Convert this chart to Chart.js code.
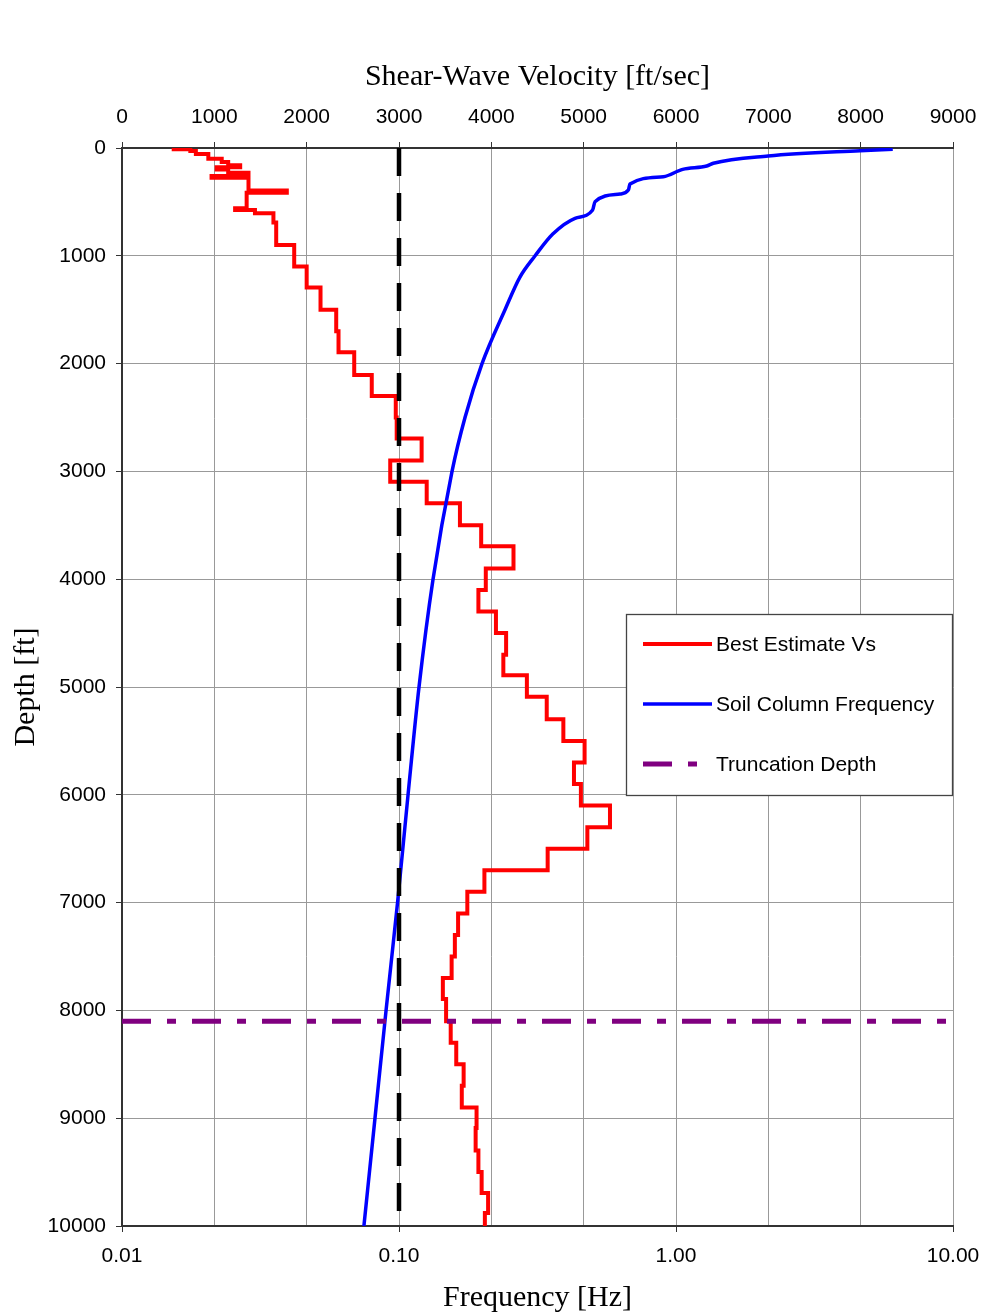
<!DOCTYPE html>
<html>
<head>
<meta charset="utf-8">
<title>Shear-Wave Velocity and Soil Column Frequency</title>
<script src="https://cdn.jsdelivr.net/npm/chart.js@4.4.1/dist/chart.umd.min.js"></script>
<style>
    html, body { margin: 0; padding: 0; background: #fff; }
    canvas { display: block; }
</style>
</head>
<body>
<canvas id="profileChart" width="985" height="1314"></canvas>
<script>
// Layer tops [ft] and best-estimate shear-wave velocity of each layer [ft/sec]
const layerTopFt = [
    0, 12, 28, 55, 100, 130, 160, 178, 200, 230,
    260, 275, 395, 415, 560, 575, 605, 690, 900, 1100,
    1295, 1500, 1700, 1895, 2105, 2300, 2500, 2695, 2900, 3095,
    3295, 3500, 3695, 3900, 4100, 4300, 4500, 4700, 4890, 5090,
    5300, 5500, 5700, 5900, 6100, 6300, 6500, 6700, 6900, 7100,
    7300, 7500, 7700, 7895, 8100, 8300, 8500, 8700, 8900, 9090,
    9300, 9500, 9695, 9880
];
const bestEstimateVs = [
    560, 740, 800, 935, 1080, 1150, 1280, 1025, 1150, 1370,
    970, 1370, 1785, 1350, 1225, 1440, 1640, 1670, 1865, 2000,
    2150, 2320, 2345, 2515, 2705, 2965, 2975, 3245, 2905, 3300,
    3660, 3890, 4240, 3940, 3860, 4050, 4160, 4130, 4385, 4600,
    4780, 5010, 4895, 4970, 5285, 5040, 4610, 3925, 3740, 3640,
    3605, 3570, 3475, 3510, 3560, 3620, 3700, 3680, 3840, 3830,
    3860, 3895, 3965, 3930
];

// Fundamental frequency of the soil column above each depth
const freqDepthFt = [
    12, 25, 74, 142, 167, 198, 266, 334, 390, 427,
    498, 575, 652, 798, 1000, 1200, 1500, 2000, 2500, 3000,
    4000, 5000, 6000, 7000, 8000, 9000, 10000
];
const soilColumnHz = [
    6.06, 4.62, 2.15, 1.364, 1.291, 1.057, 0.900, 0.682, 0.673, 0.628,
    0.510, 0.500, 0.432, 0.359, 0.310, 0.273, 0.2414, 0.1994, 0.1731, 0.1554,
    0.1327, 0.1181, 0.1078, 0.0988, 0.0898, 0.0819, 0.0747
];

const targetFreqHz = 0.1;
const truncationDepthFt = 8100;
const maxDepthFt = 10000;

const velocityTicks = [0, 1000, 2000, 3000, 4000, 5000, 6000, 7000, 8000, 9000];
const freqTicks = [0.01, 0.1, 1, 10];
const depthTicks = [0, 1000, 2000, 3000, 4000, 5000, 6000, 7000, 8000, 9000, 10000];

const SANS = "'Liberation Sans', Arial, sans-serif";
const SERIF = "'Liberation Serif', 'Times New Roman', serif";

Chart.defaults.font.family = SANS;
Chart.defaults.color = "#000";

// step profile: each layer drawn as a vertical run from its top to the next top
const profilePoints = [];
layerTopFt.forEach(function (top, i) {
    const bottom = i + 1 < layerTopFt.length ? layerTopFt[i + 1] : maxDepthFt;
    profilePoints.push({x: bestEstimateVs[i], y: top}, {x: bestEstimateVs[i], y: bottom});
});

const freqPoints = freqDepthFt.map(function (d, i) {
    return {x: soilColumnHz[i], y: d};
});

// fixed axis box sizes; tick labels may hang past the plot edges
function fixHeight(h) {
    return function (s) {
        s.height = h;
        s.paddingLeft = 0;
        s.paddingRight = 0;
    };
}

// legend box drawn inside the plot, right side
const legendBox = {
    id: "legendBox",
    afterDraw(chart) {
        const ctx = chart.ctx;
        const area = chart.chartArea;
        const w = 326, h = 181;
        const left = area.right - w - 1;
        const top = 614;
        const entries = chart.data.datasets.filter(function (d) { return d.label; });

        ctx.save();
        ctx.fillStyle = "#fff";
        ctx.fillRect(left, top, w, h);
        ctx.strokeStyle = "#444";
        ctx.lineWidth = 1.3;
        ctx.strokeRect(left + 0.5, top + 0.5, w, h);

        ctx.font = "21px " + SANS;
        ctx.textBaseline = "middle";
        ctx.textAlign = "left";
        entries.forEach(function (d, i) {
            const y = top + 30 + i * 60;
            ctx.strokeStyle = d.borderColor;
            ctx.lineWidth = d.borderWidth;
            ctx.setLineDash(d.borderDash || []);
            ctx.beginPath();
            ctx.moveTo(left + 17, y);
            ctx.lineTo(left + (d.borderDash ? 73 : 86), y);
            ctx.stroke();
            ctx.setLineDash([]);
            ctx.fillStyle = "#000";
            ctx.fillText(d.label, left + 90, y + 1);
        });
        ctx.restore();
    }
};

new Chart(document.getElementById("profileChart"), {
    type: "scatter",
    data: {
        datasets: [{
                label: "Best Estimate Vs",
                data: profilePoints,
                xAxisID: "xVel",
                yAxisID: "y",
                showLine: true,
                borderColor: "#ff0000",
                borderWidth: 4,
                pointRadius: 0,
                order: 4
            }, {
                label: "Soil Column Frequency",
                data: freqPoints,
                xAxisID: "xFreq",
                yAxisID: "y",
                showLine: true,
                borderColor: "#0000ff",
                borderWidth: 3.5,
                pointRadius: 0,
                cubicInterpolationMode: "monotone",
                order: 3
            }, {
                label: "Truncation Depth",
                data: [{x: velocityTicks[0], y: truncationDepthFt}, {x: velocityTicks[velocityTicks.length - 1], y: truncationDepthFt}],
                xAxisID: "xVel",
                yAxisID: "y",
                showLine: true,
                borderColor: "#800080",
                borderWidth: 5,
                borderDash: [29, 16, 9, 16],
                pointRadius: 0,
                order: 1
            }, {
                label: "",
                data: [{x: targetFreqHz, y: 0}, {x: targetFreqHz, y: maxDepthFt}],
                xAxisID: "xFreq",
                yAxisID: "y",
                showLine: true,
                borderColor: "#000",
                borderWidth: 4.5,
                borderDash: [28, 17],
                pointRadius: 0,
                order: 2
            }]
    },
    options: {
        responsive: false,
        animation: false,
        layout: {padding: {top: 0, right: 32, bottom: 0, left: 0}},
        plugins: {
            legend: {display: false},
            tooltip: {enabled: false}
        },
        scales: {
            xVel: {
                type: "linear",
                position: "top",
                min: 0,
                max: 9000,
                afterBuildTicks: function (s) { s.ticks = velocityTicks.map(function (v) { return {value: v}; }); },
                afterFit: fixHeight(148),
                ticks: {
                    padding: 12,
                    maxRotation: 0,
                    autoSkip: false,
                    font: {size: 21},
                    callback: function (v) { return String(v); }
                },
                grid: {color: "#999", tickColor: "#333", tickLength: 6},
                border: {color: "#333", width: 2},
                title: {
                    display: true,
                    text: "Shear-Wave Velocity [ft/sec]",
                    font: {family: SERIF, size: 30, lineHeight: 1},
                    padding: {top: 62, bottom: 0}
                }
            },
            xFreq: {
                type: "logarithmic",
                position: "bottom",
                min: 0.01,
                max: 10,
                afterBuildTicks: function (s) { s.ticks = freqTicks.map(function (v) { return {value: v}; }); },
                afterFit: fixHeight(88),
                ticks: {
                    padding: 12,
                    maxRotation: 0,
                    autoSkip: false,
                    font: {size: 21},
                    callback: function (v) { return Number(v).toFixed(2); }
                },
                grid: {drawOnChartArea: false, tickColor: "#333", tickLength: 6},
                border: {color: "#333", width: 2},
                title: {
                    display: true,
                    text: "Frequency [Hz]",
                    font: {family: SERIF, size: 30, lineHeight: 1},
                    padding: {top: 0, bottom: 1}
                }
            },
            y: {
                type: "linear",
                position: "left",
                reverse: true,
                min: 0,
                max: maxDepthFt,
                afterBuildTicks: function (s) { s.ticks = depthTicks.map(function (v) { return {value: v}; }); },
                afterFit: function (s) { s.width = 122; },
                ticks: {
                    padding: 10,
                    autoSkip: false,
                    font: {size: 21},
                    callback: function (v) { return String(v); }
                },
                grid: {color: "#999", tickColor: "#333", tickLength: 6},
                border: {color: "#333", width: 2},
                title: {
                    display: true,
                    text: "Depth [ft]",
                    font: {family: SERIF, size: 30, lineHeight: 1},
                    padding: {top: 11, bottom: 0}
                }
            }
        }
    },
    plugins: [legendBox]
});
</script>
</body>
</html>
